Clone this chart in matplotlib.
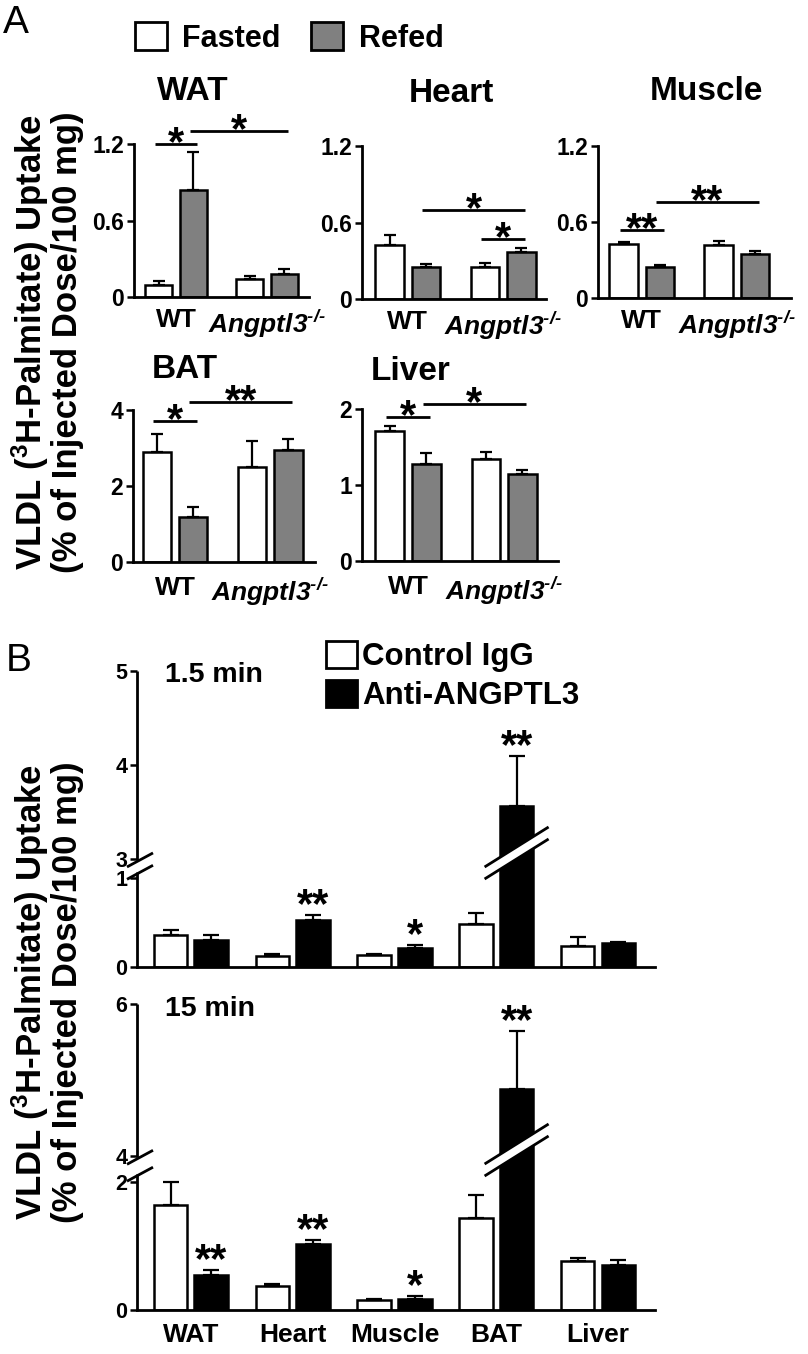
import numpy as np
import matplotlib
matplotlib.use('Agg')
import matplotlib.pyplot as plt
from matplotlib.patches import Patch, Polygon
from matplotlib.lines import Line2D

# ---- panel A: VLDL uptake, fasted vs refed (WT, Angptl3-/-) ----
a_tissues = ['WAT', 'Heart', 'Muscle', 'BAT', 'Liver']
a_groups = ['WT', 'Angptl3$^{\u2010/\u2010}$']
a_fasted = [[0.092, 0.139], [0.42, 0.25], [0.427, 0.419], [2.89, 2.51], [1.71, 1.34]]
a_fasted_err = [[0.031, 0.024], [0.08, 0.03], [0.018, 0.034], [0.48, 0.68], [0.07, 0.09]]
a_refed = [[0.84, 0.179], [0.25, 0.367], [0.241, 0.348], [1.19, 2.95], [1.28, 1.14]]
a_refed_err = [[0.30, 0.044], [0.025, 0.033], [0.021, 0.024], [0.25, 0.28], [0.14, 0.06]]
a_yticks = [[0, 0.6, 1.2], [0, 0.6, 1.2], [0, 0.6, 1.2], [0, 2, 4], [0, 1, 2]]
a_yticklabels = [['0', '0.6', '1.2'], ['0', '0.6', '1.2'], ['0', '0.6', '1.2'], ['0', '2', '4'], ['0', '1', '2']]
# comparisons: (tissue, bar i, bar j, height, label); bars = Fasted WT, Refed WT, Fasted KO, Refed KO
a_sig = [(0, 0, 1, 1.20, '*'), (0, 1, 3, 1.30, '*'),
         (1, 1, 3, 0.70, '*'), (1, 2, 3, 0.47, '*'),
         (2, 0, 1, 0.54, '**'), (2, 1, 3, 0.76, '**'),
         (3, 0, 1, 3.72, '*'), (3, 1, 3, 4.22, '**'),
         (4, 0, 1, 1.89, '*'), (4, 1, 3, 2.07, '*')]

# ---- panel B: control IgG vs anti-ANGPTL3 ----
b_tissues = ['WAT', 'Heart', 'Muscle', 'BAT', 'Liver']
b1_ctrl = [0.365, 0.125, 0.13, 0.48, 0.24]
b1_ctrl_err = [0.055, 0.025, 0.012, 0.13, 0.10]
b1_anti = [0.307, 0.53, 0.217, 3.56, 0.275]
b1_anti_err = [0.05, 0.056, 0.025, 0.54, 0.01]
b1_stars = ['', '**', '*', '**', '']
b15_ctrl = [1.64, 0.375, 0.156, 1.43, 0.77]
b15_ctrl_err = [0.38, 0.035, 0.014, 0.37, 0.04]
b15_anti = [0.547, 1.03, 0.177, 4.88, 0.70]
b15_anti_err = [0.078, 0.07, 0.043, 0.76, 0.08]
b15_stars = ['**', '**', '*', '**', '']

W, H = 808, 1354

plt.rcParams['font.family'] = ['Liberation Sans', 'DejaVu Sans']
plt.rcParams['font.weight'] = 'bold'
plt.rcParams['mathtext.default'] = 'regular'

fig = plt.figure(figsize=(W / 100, H / 100), dpi=100)


def place(left, top, right, bottom):
    return fig.add_axes([left / W, 1 - bottom / H, (right - left) / W, (bottom - top) / H])


def style(ax, labelsize=16.5, xpad=9):
    for s in ['top', 'right']:
        ax.spines[s].set_visible(False)
    for s in ['left', 'bottom']:
        ax.spines[s].set_linewidth(2)
    ax.tick_params(axis='y', direction='out', length=5, width=1.8, pad=2, labelsize=labelsize)
    ax.tick_params(axis='x', length=0, pad=xpad, labelsize=19)
    ax.patch.set_visible(False)


def px_line(xs, ys, **kw):
    # xs, ys in pixels measured from top-left
    fig.add_artist(Line2D(xs, [H - y for y in ys], transform=None, color='black',
                          solid_capstyle='butt', **kw))


# ---------------- panel A ----------------
a_boxes = [(134, 144, 309, 297), (362, 146, 546, 299), (598, 146, 791, 298),
           (133, 410, 315, 562), (362, 409, 558, 561)]
a_xlims = [(-0.46, 1.46), (-0.48, 1.45), (-0.46, 1.57), (-0.44, 1.47), (-0.48, 1.56)]
a_titles_px = [(193, 92), (451, 94), (706, 92), (185, 370), (411, 372)]
w, off = 0.30, 0.19
bar_kw = dict(edgecolor='black', linewidth=1.8, capsize=4.5,
              error_kw=dict(elinewidth=1.6, capthick=1.6))

for k, name in enumerate(a_tissues):
    ax = place(*a_boxes[k])
    style(ax, xpad=8 if k < 3 else 10)
    x = np.arange(2)
    ax.bar(x - off, a_fasted[k], w, yerr=[[0, 0], a_fasted_err[k]], color='white', **bar_kw)
    ax.bar(x + off, a_refed[k], w, yerr=[[0, 0], a_refed_err[k]], color='#808080', **bar_kw)
    ax.set_xlim(*a_xlims[k])
    ax.set_ylim(0, a_yticks[k][-1])
    ax.set_yticks(a_yticks[k])
    ax.set_yticklabels(a_yticklabels[k])
    ax.set_xticks(x)
    ax.set_xticklabels(a_groups)
    ax.get_xticklabels()[1].set_style('italic')
    fig.text(a_titles_px[k][0] / W, 1 - a_titles_px[k][1] / H, name, fontsize=24,
             ha='center', va='center')
    centers = [-off, off, 1 - off, 1 + off]
    for t, i, j, h, lab in a_sig:
        if t != k:
            continue
        x1, x2 = centers[i] - 0.04, centers[j] + 0.04
        ax.plot([x1, x2], [h, h], color='black', lw=2, clip_on=False, solid_capstyle='butt')
        ax.annotate(lab, ((x1 + x2) / 2, h), xytext=(0, -8), textcoords='offset points',
                    ha='center', va='baseline', fontsize=30, annotation_clip=False)

fig.legend(handles=[Patch(facecolor='white', edgecolor='black', linewidth=2),
                    Patch(facecolor='#808080', edgecolor='black', linewidth=2)],
           labels=['Fasted', 'Refed'], ncol=2, loc='center left',
           bbox_to_anchor=(135 / W, 1 - 38 / H), frameon=False, fontsize=22,
           handlelength=1.05, handleheight=1.0, handletextpad=0.5, columnspacing=1.0,
           borderaxespad=0, borderpad=0)

ylab = 'VLDL ($^{3}$H-Palmitate) Uptake\n(% of Injected Dose/100 mg)'
for yc in (342, 992):
    fig.text(47 / W, 1 - yc / H, ylab, rotation=90, ha='center', va='center',
             fontsize=25, linespacing=1.0, multialignment='center')
fig.text(3 / W, 1 - 23 / H, 'A', fontsize=28, weight='normal', va='center')
fig.text(6 / W, 1 - 661 / H, 'B', fontsize=28, weight='normal', va='center')


# ---------------- panel B ----------------
def broken_scale(lo, hi, gap, up):
    top = lo + (hi - lo) * gap

    def fwd(y):
        y = np.asarray(y, float)
        return np.where(y <= lo, y, np.where(y <= hi, lo + (y - lo) * gap, top + (y - hi) * up))

    def inv(v):
        v = np.asarray(v, float)
        return np.where(v <= lo, v, np.where(v <= top, lo + (v - lo) / gap, hi + (v - top) / up))
    return fwd, inv


b_panels = [
    dict(box=(137, 671, 655, 967), ctrl=b1_ctrl, ctrl_err=b1_ctrl_err, anti=b1_anti,
         anti_err=b1_anti_err, stars=b1_stars, brk=(1, 3, 0.1067, 1.056), ymax=5,
         yticks=[0, 1, 3, 4, 5], label='1.5 min', xlabels=False),
    dict(box=(137, 1004, 655, 1310), ctrl=b15_ctrl, ctrl_err=b15_ctrl_err, anti=b15_anti,
         anti_err=b15_anti_err, stars=b15_stars, brk=(2, 4, 0.203, 1.1875), ymax=6,
         yticks=[0, 2, 4, 6], label='15 min', xlabels=True),
]
bw, boff = 0.33, 0.2
bkw = dict(edgecolor='black', linewidth=1.8, capsize=6,
           error_kw=dict(elinewidth=1.6, capthick=1.6))

for p in b_panels:
    ax = place(*p['box'])
    style(ax, labelsize=15.5, xpad=9)
    lo, hi, gap, up = p['brk']
    ax.set_yscale('function', functions=broken_scale(lo, hi, gap, up))
    x = np.arange(len(b_tissues))
    n = len(x)
    ax.bar(x - boff, p['ctrl'], bw, yerr=[[0] * n, p['ctrl_err']], color='white', **bkw)
    ax.bar(x + boff, p['anti'], bw, yerr=[[0] * n, p['anti_err']], color='black', **bkw)
    ax.set_xlim(-0.53, 4.56)
    ax.set_ylim(0, p['ymax'])
    ax.set_yticks(p['yticks'])
    ax.set_yticklabels([str(t) for t in p['yticks']])
    ax.yaxis.set_minor_locator(matplotlib.ticker.NullLocator())
    ax.set_xticks(x)
    ax.set_xticklabels(b_tissues if p['xlabels'] else [''] * n, fontsize=19)
    for i, s in enumerate(p['stars']):
        if s:
            ax.annotate(s, (x[i] + boff, p['anti'][i] + p['anti_err'][i]), xytext=(0, -1.5),
                        textcoords='offset points', ha='center', va='baseline', fontsize=30,
                        annotation_clip=False)
    ax.text(0.054, 0.985, p['label'], transform=ax.transAxes, fontsize=20.5,
            ha='left', va='center')

    # broken y axis: hide spine, draw two segments with slash marks
    ax.spines['left'].set_visible(False)
    to_px = lambda xv, yv: (ax.transData.transform((xv, yv))[0],
                            H - ax.transData.transform((xv, yv))[1])
    sx, y0 = to_px(ax.get_xlim()[0], 0)
    _, ylo = to_px(ax.get_xlim()[0], lo)
    _, yhi = to_px(ax.get_xlim()[0], hi)
    _, ytop = to_px(ax.get_xlim()[0], p['ymax'])
    m1 = ylo + 0.3 * (yhi - ylo)
    m2 = ylo + 0.95 * (yhi - ylo)
    px_line([sx, sx], [y0 + 1, m1], lw=2)
    px_line([sx, sx], [m2, ytop], lw=2)
    for m in (m1, m2):
        px_line([sx - 10, sx + 16], [m + 7, m - 7], lw=2)

    # slash through the tall BAT bar
    bx, _ = to_px(x[3] + boff, 0)
    dx, dy, sep = 32, 20, 12
    cy = yhi
    poly = [(bx - dx, H - (cy + dy)), (bx + dx, H - (cy - dy)),
            (bx + dx, H - (cy - dy - sep)), (bx - dx, H - (cy + dy - sep))]
    fig.add_artist(Polygon(poly, closed=True, transform=None, facecolor='white',
                           edgecolor='none', zorder=3))
    px_line([bx - dx, bx + dx], [cy + dy, cy - dy], lw=2, zorder=4)
    px_line([bx - dx, bx + dx], [cy + dy - sep, cy - dy - sep], lw=2, zorder=4)

fig.legend(handles=[Patch(facecolor='white', edgecolor='black', linewidth=2),
                    Patch(facecolor='black', edgecolor='black', linewidth=2)],
           labels=['Control IgG', 'Anti-ANGPTL3'], ncol=1, loc='upper left',
           bbox_to_anchor=(326 / W, 1 - 641 / H), frameon=False, fontsize=22.5,
           handlelength=1.0, handleheight=0.95, handletextpad=0.15, labelspacing=0.25,
           borderaxespad=0, borderpad=0)

fig.savefig('out.png', dpi=100)
